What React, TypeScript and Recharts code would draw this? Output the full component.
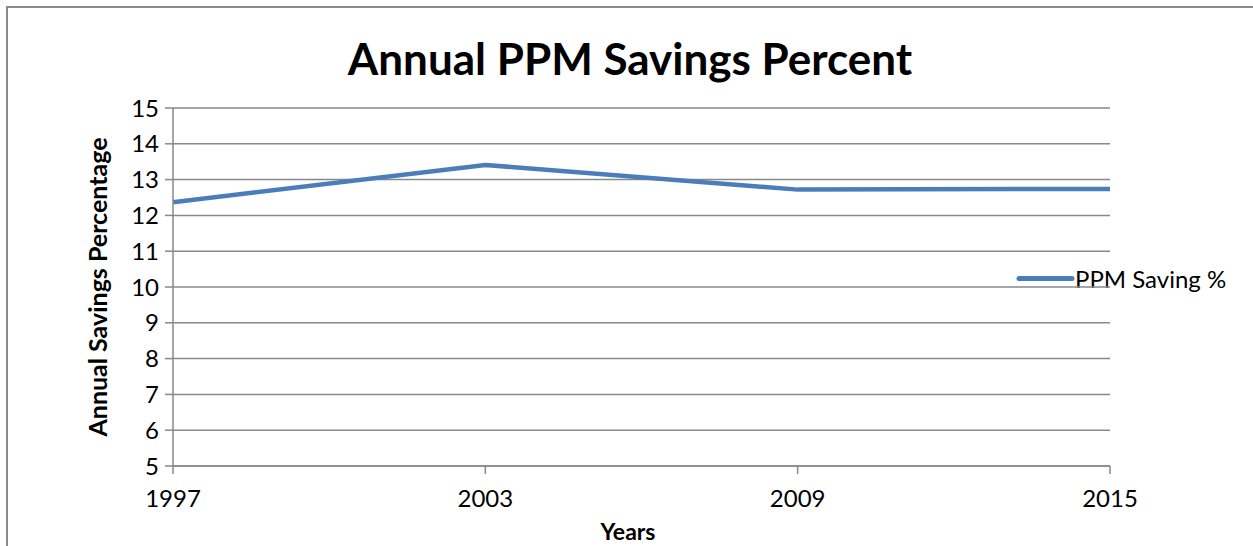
import { LineChart, Line, XAxis, YAxis, CartesianGrid } from "recharts";

const years = [1997, 2003, 2009, 2015];
const savingPct = [12.37, 13.41, 12.72, 12.74];
const yTicks = [5, 6, 7, 8, 9, 10, 11, 12, 13, 14, 15];
const seriesName = "PPM Saving %";

const data = years.map((y, i) => ({ year: y, value: savingPct[i] }));

const FONT = "Lato, 'Open Sans', sans-serif";
const GRID = "#898989";
const BLUE = "#4a7ebb";

export default function App() {
  return (
    <div style={{ position: "absolute", left: 0, top: 0, width: 1253, height: 546, overflow: "hidden", background: "#fff" }}>
      <div
        style={{
          position: "absolute",
          left: 6,
          top: 6,
          width: 1300,
          height: 600,
          borderLeft: "2px solid #8a8a8a",
          borderTop: "2px solid #8a8a8a",
        }}
      />
      <div
        style={{
          position: "absolute",
          left: 630,
          top: 58,
          transform: "translate(-50%, -50%)",
          whiteSpace: "nowrap",
          fontFamily: FONT,
          fontWeight: 700,
          fontSize: 44,
          color: "#000",
        }}
      >
        Annual PPM Savings Percent
      </div>
      <div
        style={{
          position: "absolute",
          left: 97,
          top: 287,
          transform: "translate(-50%, -50%) rotate(-90deg)",
          whiteSpace: "nowrap",
          fontFamily: FONT,
          fontWeight: 700,
          fontSize: 25,
          color: "#000",
        }}
      >
        Annual Savings Percentage
      </div>
      <div
        style={{
          position: "absolute",
          left: 628,
          top: 531,
          transform: "translate(-50%, -50%)",
          whiteSpace: "nowrap",
          fontFamily: FONT,
          fontWeight: 700,
          fontSize: 23,
          color: "#000",
        }}
      >
        Years
      </div>
      <div
        style={{
          position: "absolute",
          left: 1015,
          top: 278,
          transform: "translateY(-50%)",
          display: "flex",
          alignItems: "center",
          whiteSpace: "nowrap",
          fontFamily: FONT,
          fontSize: 24,
          color: "#000",
        }}
      >
        <svg width={60} height={10}>
          <line x1={4} y1={5} x2={57} y2={5} stroke={BLUE} strokeWidth={5} strokeLinecap="round" />
        </svg>
        <span>{seriesName}</span>
      </div>
      <LineChart
        width={1253}
        height={546}
        data={data}
        margin={{ top: 108, right: 143, left: 113, bottom: 50 }}
        style={{ position: "absolute", left: 0, top: 0 }}
      >
        <CartesianGrid vertical={false} stroke={GRID} strokeWidth={1.5} />
        <XAxis
          dataKey="year"
          type="number"
          domain={[1997, 2015]}
          ticks={years}
          height={30}
          axisLine={{ stroke: GRID, strokeWidth: 1.5 }}
          tickLine={{ stroke: GRID, strokeWidth: 1.5 }}
          tickSize={8}
          tick={{ fill: "#000", fontSize: 24, fontFamily: FONT }}
          tickMargin={16}
        />
        <YAxis
          type="number"
          domain={[5, 15]}
          ticks={yTicks}
          interval={0}
          width={60}
          axisLine={{ stroke: GRID, strokeWidth: 1.5 }}
          tickLine={{ stroke: GRID, strokeWidth: 1.5 }}
          tickSize={8}
          tick={{ fill: "#000", fontSize: 24, fontFamily: FONT }}
          tickMargin={6}
        />
        <Line
          type="linear"
          dataKey="value"
          name={seriesName}
          stroke={BLUE}
          strokeWidth={4.5}
          dot={false}
          isAnimationActive={false}
        />
      </LineChart>
    </div>
  );
}
